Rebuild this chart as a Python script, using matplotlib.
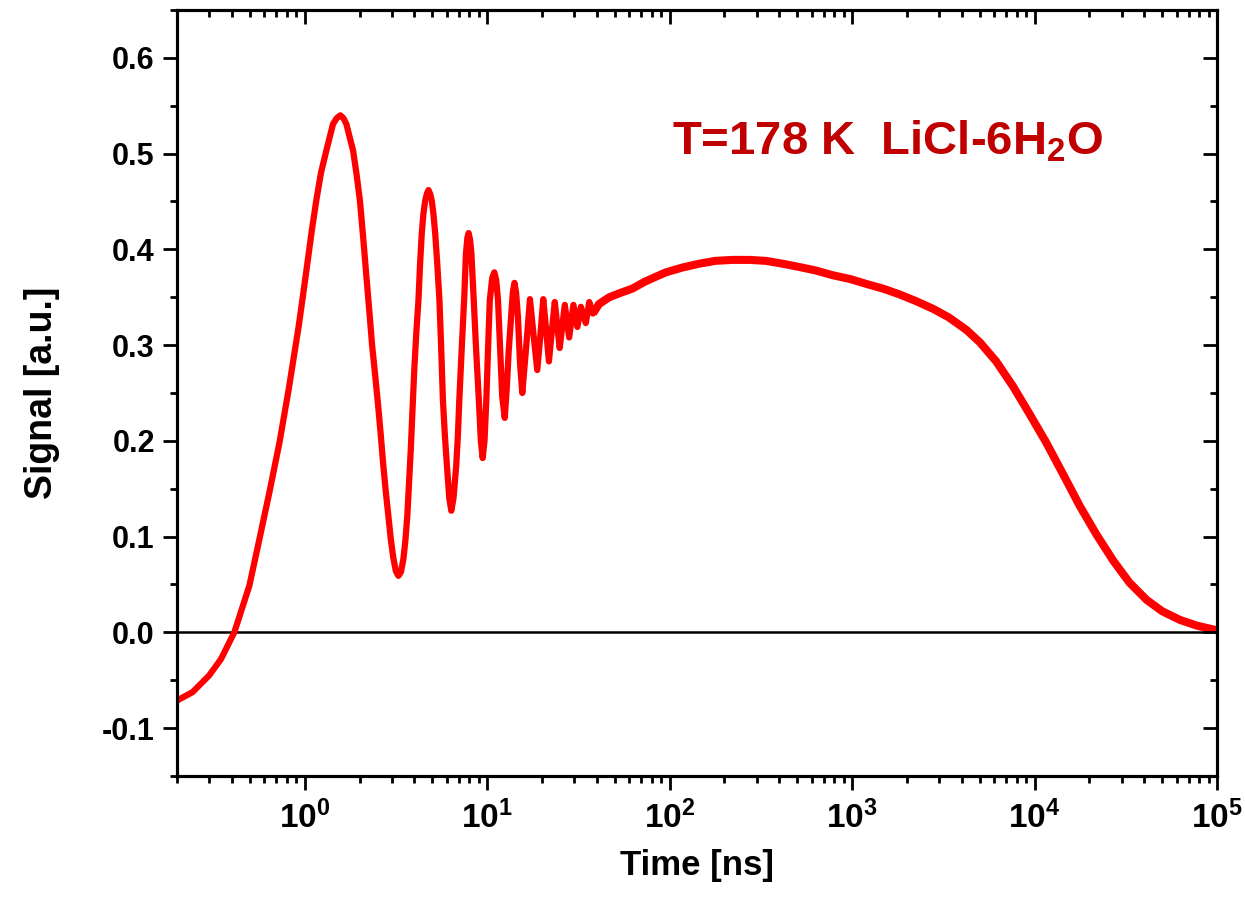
import matplotlib
matplotlib.use("Agg")
import matplotlib.pyplot as plt
from matplotlib.ticker import LogLocator, MultipleLocator, NullFormatter

plt.rcParams['font.family'] = ['Liberation Sans', 'DejaVu Sans']
plt.rcParams['font.weight'] = 'bold'
plt.rcParams['mathtext.fontset'] = 'custom'
plt.rcParams['mathtext.rm'] = 'Liberation Sans:bold'
plt.rcParams['mathtext.bf'] = 'Liberation Sans:bold'
plt.rcParams['mathtext.it'] = 'Liberation Sans:bold'
plt.rcParams['mathtext.default'] = 'rm'

# time in ns
time_ns = [0.201, 0.243, 0.300, 0.348, 0.412, 0.498, 0.565, 0.641, 0.728, 0.817,
           0.927, 0.977, 1.03, 1.096, 1.159, 1.230, 1.315, 1.432, 1.500, 1.570,
           1.633, 1.694, 1.778, 1.845, 1.928, 2.010, 2.089, 2.183, 2.265, 2.344,
           2.438, 2.535, 2.618, 2.698, 2.786, 2.877, 2.965, 3.062, 3.162, 3.266,
           3.373, 3.475, 3.565, 3.656, 3.733, 3.819, 3.908, 4.000, 4.102, 4.207,
           4.295, 4.385, 4.477, 4.581, 4.677, 4.775, 4.875, 4.977, 5.082, 5.200,
           5.333, 5.483, 5.598, 5.728, 5.875, 6.026, 6.209, 6.368, 6.546, 6.776,
           6.918, 7.047, 7.278, 7.499, 7.656, 7.798, 7.925, 8.072, 8.204, 8.453,
           8.710, 8.995, 9.247, 9.462, 9.683, 9.908, 10.14, 10.35, 10.67, 10.96,
           11.22, 11.48, 11.80, 12.11, 12.50, 12.82, 13.15, 13.55, 13.84, 14.13,
           14.42, 14.76, 15.17, 15.60, 16.41, 17.18, 17.99, 18.84, 19.59, 20.32,
           21.09, 21.83, 22.65, 23.50, 24.27, 25.00, 26.67, 28.18, 29.72, 31.26,
           32.66, 34.75, 36.31, 38.02, 41.11, 46.77, 52.84, 62.52, 72.78, 83.18,
           95.5, 117.5, 145.2, 177.8, 221.3, 275.4, 337.3, 416.9, 514.0, 631.0,
           783.4, 977.2, 1194, 1479, 1820, 2239, 2773, 3388, 4227, 5012,
           6166, 7621, 9333, 11610, 14450, 17700, 21880, 26980, 33110, 41110,
           50120, 62660, 77620, 95500, 100000]
signal = [-0.071, -0.0625, -0.045, -0.028, 0.0, 0.0486, 0.097, 0.146, 0.198, 0.253,
          0.319, 0.350, 0.382, 0.420, 0.451, 0.480, 0.503, 0.531, 0.537, 0.540,
          0.537, 0.531, 0.515, 0.503, 0.478, 0.451, 0.415, 0.371, 0.335, 0.300,
          0.268, 0.235, 0.205, 0.175, 0.147, 0.122, 0.098, 0.078, 0.064, 0.059,
          0.063, 0.076, 0.095, 0.122, 0.155, 0.191, 0.235, 0.278, 0.315, 0.347,
          0.385, 0.416, 0.437, 0.451, 0.458, 0.462, 0.458, 0.451, 0.437, 0.416,
          0.385, 0.347, 0.300, 0.243, 0.205, 0.174, 0.140, 0.127, 0.140, 0.174,
          0.205, 0.243, 0.300, 0.350, 0.395, 0.412, 0.417, 0.410, 0.396, 0.347,
          0.295, 0.246, 0.200, 0.182, 0.200, 0.243, 0.300, 0.347, 0.370, 0.376,
          0.368, 0.347, 0.295, 0.246, 0.224, 0.255, 0.295, 0.330, 0.355, 0.365,
          0.355, 0.330, 0.280, 0.250, 0.300, 0.348, 0.310, 0.274, 0.310, 0.348,
          0.315, 0.283, 0.315, 0.345, 0.320, 0.297, 0.342, 0.308, 0.342, 0.319,
          0.340, 0.323, 0.345, 0.333, 0.343, 0.350, 0.354, 0.359, 0.366, 0.371,
          0.376, 0.381, 0.385, 0.388, 0.389, 0.389, 0.388, 0.385, 0.3816, 0.378,
          0.373, 0.369, 0.364, 0.359, 0.353, 0.346, 0.338, 0.329, 0.316, 0.303,
          0.283, 0.257, 0.229, 0.198, 0.164, 0.132, 0.102, 0.075, 0.052, 0.034,
          0.022, 0.013, 0.007, 0.003, 0.002]

x_limits = (0.2, 1e5)
y_limits = (-0.15, 0.65)
y_ticks = [-0.1, 0.0, 0.1, 0.2, 0.3, 0.4, 0.5, 0.6]
label_text = r'T=178 K  LiCl-6H$_{2}$O'

fig = plt.figure(figsize=(12.45, 9.1), dpi=100)
ax = fig.add_axes([0.1422, 0.1473, 0.8353, 0.8417])

ax.axhline(0.0, color='black', lw=1.8, zorder=1)

early = [i for i, t in enumerate(time_ns) if t <= 41.11]
late = [i for i, t in enumerate(time_ns) if t >= 38.02]
ax.plot([time_ns[i] for i in early], [signal[i] for i in early], color='#ff0000',
        lw=4.5, solid_joinstyle='round', solid_capstyle='round', zorder=3)
ax.plot([time_ns[i] for i in late], [signal[i] for i in late], color='#ff0000',
        lw=5.8, solid_joinstyle='round', solid_capstyle='butt', zorder=3)

ax.set_xscale('log')
ax.set_xlim(*x_limits)
ax.set_ylim(*y_limits)
ax.set_yticks(y_ticks)
ax.yaxis.set_minor_locator(MultipleLocator(0.05))
ax.xaxis.set_major_locator(LogLocator(base=10, numticks=20))
ax.xaxis.set_minor_locator(LogLocator(base=10, subs=range(2, 10), numticks=200))
ax.xaxis.set_minor_formatter(NullFormatter())
ax.set_yticklabels(['%.1f' % v for v in y_ticks])

for s in ax.spines.values():
    s.set_linewidth(2.2)

ax.tick_params(axis='both', which='major', direction='out', length=10, width=2,
               labelsize=22, pad=6)
ax.tick_params(axis='both', which='minor', direction='out', length=5, width=2)
ax.tick_params(axis='x', which='major', labelsize=24, pad=8)

for lbl in ax.get_yticklabels():
    lbl.set_fontweight('bold')

# mirrored inward ticks on top and right
axt = ax.twiny()
axt.set_xscale('log')
axt.set_xlim(*x_limits)
axt.xaxis.set_major_locator(LogLocator(base=10, numticks=20))
axt.xaxis.set_minor_locator(LogLocator(base=10, subs=range(2, 10), numticks=200))
axt.tick_params(axis='x', which='major', direction='in', length=10, width=2,
                labeltop=False)
axt.tick_params(axis='x', which='minor', direction='in', length=5, width=2,
                labeltop=False)
axr = ax.twinx()
axr.set_ylim(*y_limits)
axr.set_yticks(y_ticks)
axr.yaxis.set_minor_locator(MultipleLocator(0.05))
axr.tick_params(axis='y', which='major', direction='in', length=10, width=2,
                labelright=False)
axr.tick_params(axis='y', which='minor', direction='in', length=5, width=2,
                labelright=False)
for a in (axt, axr):
    for s in a.spines.values():
        s.set_linewidth(2.2)

ax.set_xlabel('Time [ns]', fontsize=25, fontweight='bold', labelpad=10)
ax.set_ylabel('Signal [a.u.]', fontsize=27, fontweight='bold', labelpad=30)

ax.text(0.476, 0.812, label_text, transform=ax.transAxes, color='#c00000',
        fontsize=34, fontweight='bold', ha='left', va='baseline')

fig.savefig('out.png', dpi=100)
